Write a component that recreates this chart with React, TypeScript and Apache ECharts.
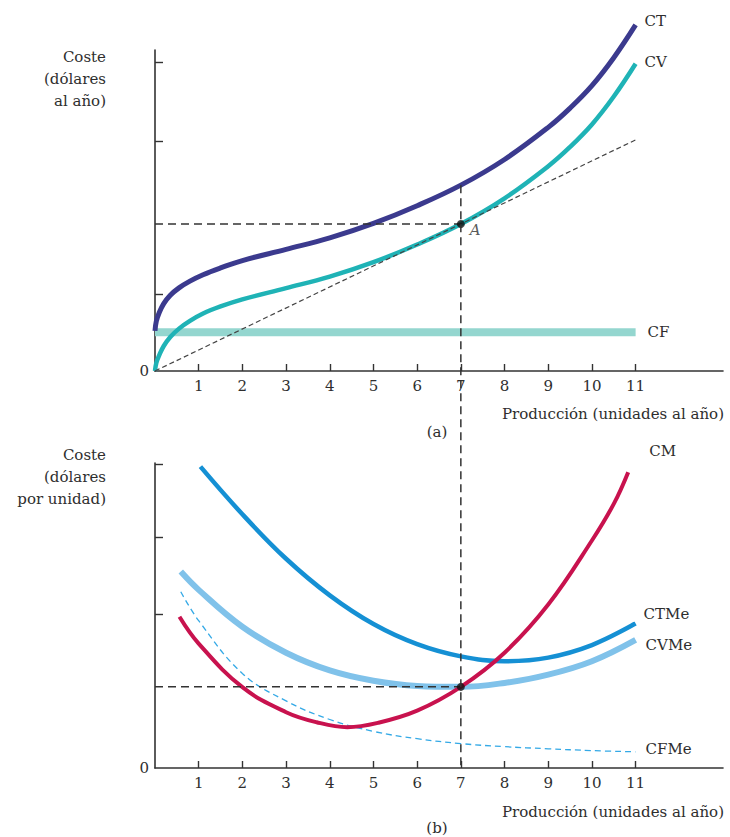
import React, { useEffect, useRef } from 'react';
import * as echarts from 'echarts';

const FONT = '"DejaVu Serif", "Liberation Serif", serif';
const TXT = '#2e2e2e';
const FS = 15;

// ---- Panel (a): costs per year ----
const xTop = [0, 0.03, 0.1, 0.2, 0.35, 0.55, 0.8, 1.1, 1.5, 2, 3, 4, 5, 6, 7, 8, 9, 9.5, 10, 10.5, 11];
const ctValues = [12.5, 15.5, 18.3, 21.0, 23.6, 25.9, 28.0, 30.0, 32.1, 34.4, 37.9, 41.5, 46.0, 51.5, 57.9, 65.9, 75.9, 81.9, 88.9, 97.6, 107.8];
const cvValues = [0, 2.5, 5.0, 7.8, 10.6, 13.2, 15.6, 17.9, 20.1, 22.3, 25.8, 29.4, 33.9, 39.4, 45.8, 53.8, 63.8, 69.8, 76.8, 85.5, 95.7];
const cfX = [0, 11];
const cfValues = [12.1, 12.1];
const rayX = [0, 11];
const rayValues = [0, 72.0];
const pointA = [7, 45.8];
const topTicks = [24, 71.7, 96.3];

// ---- Panel (b): costs per unit ----
const ctmeX = [1.04, 2, 3, 4, 5, 6, 7, 8, 9, 10, 11];
const ctmeValues = [98.8, 83.2, 68.6, 56.6, 47.2, 40.6, 36.6, 35.0, 36.2, 40.3, 47.4];
const cvmeX = [0.59, 1, 2, 3, 4, 5, 6, 7, 8, 9, 10, 11];
const cvmeValues = [64.4, 58.4, 46.3, 37.8, 32.0, 28.6, 26.9, 26.6, 27.9, 30.6, 35.0, 42.0];
const cmX = [0.56, 1, 2, 3, 3.7, 4.4, 5.1, 6, 7, 8, 9, 10, 10.5, 10.83];
const cmValues = [49.6, 40.8, 26.5, 18.3, 15.0, 13.4, 14.8, 18.8, 26.6, 37.8, 53.6, 74.6, 86.6, 97.0];
const cfmeX = [0.59, 1, 2, 3, 4, 5, 6, 7, 8, 9, 10, 11];
const cfmeValues = [57.8, 48.3, 31.0, 22.0, 15.9, 12.0, 9.6, 8.0, 7.0, 6.3, 5.7, 5.3];
const pointB = [7, 26.6];
const bottomTicks = [50.4, 75.5, 99.7];

const xTickValues = [1, 2, 3, 4, 5, 6, 7, 8, 9, 10, 11];
const qOpt = 7;

const pair = (xs: number[], ys: number[]) => xs.map((x, i) => [x, ys[i]]);

export default function App() {
  const ref = useRef<HTMLDivElement>(null);
  useEffect(() => {
    document.body.style.margin = '0';
    const chart = echarts.init(ref.current!, null, { renderer: 'svg' });
    const textStyle = { color: TXT, fontFamily: FONT, fontSize: FS };
    const xAxisBase = (gridIndex: number) => ({
      type: 'value',
      gridIndex,
      min: 0,
      max: 13,
      splitLine: { show: false },
      axisLine: { show: true, lineStyle: { color: '#333', width: 1.6 } },
      axisTick: { show: true, inside: true, length: 7, customValues: xTickValues, lineStyle: { color: '#333', width: 1.4 } },
      axisLabel: { ...textStyle, customValues: xTickValues, margin: 7 },
    });
    const yAxisBase = (gridIndex: number, ticks: number[]) => ({
      type: 'value',
      gridIndex,
      min: 0,
      max: 100,
      splitLine: { show: false },
      axisLine: { show: true, onZero: false, lineStyle: { color: '#333', width: 1.6 } },
      axisTick: { show: true, inside: true, length: 8, customValues: ticks, lineStyle: { color: '#333', width: 1.4 } },
      axisLabel: { ...textStyle, customValues: [0], formatter: () => '0', margin: 6 },
    });
    const line = (name: string, gi: number, data: number[][], color: string, width: number, extra: any = {}) => ({
      name,
      type: 'line',
      xAxisIndex: gi,
      yAxisIndex: gi,
      data,
      smooth: 0.4,
      symbol: 'none',
      showSymbol: false,
      clip: false,
      lineStyle: { color, width },
      silent: true,
      ...extra,
    });
    const endLabel = (text: string, offset: number[]) => ({
      endLabel: { show: true, formatter: text, offset, ...textStyle },
    });
    const dashed = (gi: number, data: number[][], width: number, dash: number[], color = '#333') => ({
      type: 'line',
      xAxisIndex: gi,
      yAxisIndex: gi,
      data,
      symbol: 'none',
      showSymbol: false,
      clip: false,
      silent: true,
      lineStyle: { color, width, type: dash },
    });

    chart.setOption({
      animation: false,
      backgroundColor: '#fff',
      grid: [
        { left: 155, top: 50, width: 568, height: 321 },
        { left: 155, top: 463, width: 568, height: 305 },
      ],
      xAxis: [xAxisBase(0), xAxisBase(1)],
      yAxis: [yAxisBase(0, topTicks), yAxisBase(1, bottomTicks)],
      series: [
        line('CF', 0, pair(cfX, cfValues), '#94d6cf', 8, { smooth: false, ...endLabel('CF', [4, 0]) }),
        line('CV', 0, pair(xTop, cvValues), '#1fb3b6', 4.5, endLabel('CV', [1, -2])),
        line('CT', 0, pair(xTop, ctValues), '#3b3a8e', 5, endLabel('CT', [1, -4])),
        dashed(0, pair(rayX, rayValues), 1.2, [5, 3], '#444'),
        dashed(0, [[0, pointA[1]], [pointA[0], pointA[1]]], 1.5, [8, 5]),
        {
          type: 'scatter',
          xAxisIndex: 0,
          yAxisIndex: 0,
          data: [pointA],
          symbolSize: 8,
          itemStyle: { color: '#111' },
          z: 5,
          label: { show: true, formatter: 'A', position: 'right', distance: 5, offset: [0, 6], ...textStyle, fontStyle: 'italic' },
        },
        line('CFMe', 1, pair(cfmeX, cfmeValues), '#34a9e6', 1.3, { lineStyle: { color: '#34a9e6', width: 1.3, type: [6, 4] }, ...endLabel('CFMe', [2, -3]) }),
        line('CVMe', 1, pair(cvmeX, cvmeValues), '#80c2ea', 6, endLabel('CVMe', [2, 5])),
        line('CTMe', 1, pair(ctmeX, ctmeValues), '#1590d4', 4.5, endLabel('CTMe', [0, -9])),
        line('CM', 1, pair(cmX, cmValues), '#c8124e', 4, endLabel('CM', [13, -21])),
        dashed(1, [[0, pointB[1]], [pointB[0], pointB[1]]], 1.5, [8, 5]),
        {
          type: 'scatter',
          xAxisIndex: 1,
          yAxisIndex: 1,
          data: [pointB],
          symbolSize: 8,
          itemStyle: { color: '#111' },
          z: 5,
        },
      ],
    });

    const ctAt7 = ctValues[xTop.indexOf(qOpt)];
    const p1 = chart.convertToPixel({ gridIndex: 0 } as any, [qOpt, ctAt7]) as number[];
    const p2 = chart.convertToPixel({ gridIndex: 1 } as any, [qOpt, 0]) as number[];
    const txt = (text: string, x: number, y: number, align: string, extra: any = {}) => ({
      type: 'text',
      x,
      y,
      style: { text, fill: TXT, fontFamily: FONT, fontSize: FS, align, verticalAlign: 'top', lineHeight: 22, ...extra },
    });
    chart.setOption({
      graphic: [
        {
          type: 'line',
          z: 10,
          shape: { x1: p1[0], y1: p1[1], x2: p2[0], y2: p2[1] },
          style: { stroke: '#333', lineWidth: 1.5, lineDash: [8, 5] },
        },
        txt('Coste\n(dólares\nal año)', 106, 46, 'right'),
        txt('Coste\n(dólares\npor unidad)', 106, 444, 'right'),
        txt('Producción (unidades al año)', 724, 403, 'right'),
        txt('Producción (unidades al año)', 724, 801, 'right'),
        txt('(a)', 437, 421, 'center'),
        txt('(b)', 437, 817, 'center'),
      ],
    });
    return () => chart.dispose();
  }, []);
  return <div ref={ref} style={{ width: 730, height: 837 }} />;
}
